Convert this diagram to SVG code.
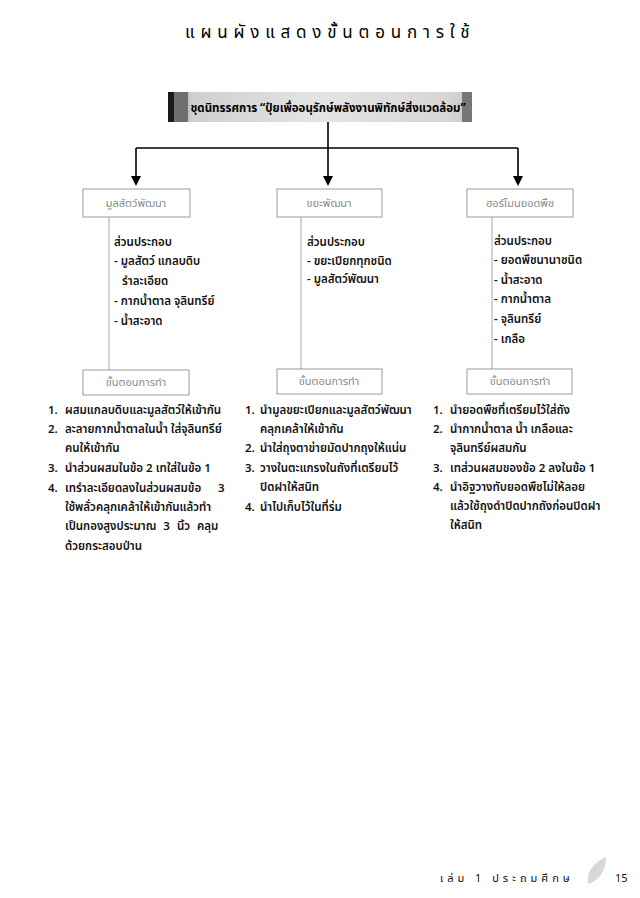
<svg xmlns="http://www.w3.org/2000/svg" width="640" height="898" viewBox="0 0 640 898">
<style>
text{font-family:"Noto Sans Thai","Noto Sans Thai UI","Loma","Garuda","Tlwg Typo","DejaVu Sans","Noto Sans",sans-serif;fill:#111}
.title{font-size:17px;letter-spacing:5.8px;fill:#000}
.hdr{font-size:11.5px;font-weight:bold;fill:#000}
.lbl{font-size:11px;fill:#8a8a8a;text-anchor:middle}
.t{font-size:11.5px;font-weight:600}
.box{fill:#fff;stroke:#9a9a9a;stroke-width:1}
.vl{stroke:#aaa;stroke-width:1;fill:none}
.con{stroke:#000;stroke-width:1.6;fill:none}
.foot{font-size:11px;letter-spacing:4px}
</style>
<defs>
<linearGradient id="bar" x1="0" x2="1" y1="0" y2="0">
<stop offset="0" stop-color="#8a8a8a"/>
<stop offset="0.08" stop-color="#cfcfcf"/>
<stop offset="0.5" stop-color="#e4e4e4"/>
<stop offset="0.92" stop-color="#d6d6d6"/>
<stop offset="1" stop-color="#c8c8c8"/>
</linearGradient>
</defs>
<rect width="640" height="898" fill="#fff"/>

<text class="title" x="185" y="38">แผนผังแสดงขั้นตอนการใช้</text>

<g id="header">
<rect x="168" y="92" width="304" height="30" fill="url(#bar)"/>
<rect x="168" y="92" width="6" height="30" fill="#1a1a1a"/>
<rect x="174" y="92" width="14" height="30" fill="#6f6f6f"/>
<rect x="462" y="92" width="10" height="30" fill="#777"/>
<text class="hdr" x="328" y="112" text-anchor="middle">ชุดนิทรรศการ “ปุ๋ยเพื่ออนุรักษ์พลังงานพิทักษ์สิ่งแวดล้อม”</text>
</g>

<g id="connectors">
<path class="con" d="M328,122 V182"/>
<path class="con" d="M136,148 H518"/>
<path class="con" d="M136,148 V182"/>
<path class="con" d="M518,148 V182"/>
<path d="M131,176 L141,176 L136,186 Z" fill="#000"/>
<path d="M323,176 L333,176 L328,186 Z" fill="#000"/>
<path d="M513,176 L523,176 L518,186 Z" fill="#000"/>
<path class="vl" d="M109,217 V370"/>
<path class="vl" d="M301,217 V369"/>
<path class="vl" d="M492,217 V369"/>
</g>

<g id="box-manure">
<rect class="box" x="83" y="189" width="107" height="28"/>
<text class="lbl" x="136" y="207">มูลสัตว์พัฒนา</text>
</g>
<g id="box-waste">
<rect class="box" x="277" y="189" width="105" height="28"/>
<text class="lbl" x="329" y="207">ขยะพัฒนา</text>
</g>
<g id="box-hormone">
<rect class="box" x="467" y="189" width="106" height="28"/>
<text class="lbl" x="520" y="207">ฮอร์โมนยอดพืช</text>
</g>

<g id="comp-manure">
<text class="t" x="114" y="246">ส่วนประกอบ</text>
<text class="t" x="114" y="265">- มูลสัตว์ แกลบดิบ</text>
<text class="t" x="122" y="285">รำละเอียด</text>
<text class="t" x="114" y="305">- กากน้ำตาล จุลินทรีย์</text>
<text class="t" x="114" y="325">- น้ำสะอาด</text>
</g>
<g id="comp-waste">
<text class="t" x="307" y="246">ส่วนประกอบ</text>
<text class="t" x="307" y="265">- ขยะเปียกทุกชนิด</text>
<text class="t" x="307" y="283">- มูลสัตว์พัฒนา</text>
</g>
<g id="comp-hormone">
<text class="t" x="494" y="245">ส่วนประกอบ</text>
<text class="t" x="494" y="264">- ยอดพืชนานาชนิด</text>
<text class="t" x="494" y="284">- น้ำสะอาด</text>
<text class="t" x="494" y="303">- กากน้ำตาล</text>
<text class="t" x="494" y="323">- จุลินทรีย์</text>
<text class="t" x="494" y="343">- เกลือ</text>
</g>

<g id="step-manure">
<rect class="box" x="83" y="370" width="106" height="25"/>
<text class="lbl" x="136" y="386">ขั้นตอนการทำ</text>
</g>
<g id="step-waste">
<rect class="box" x="277" y="369" width="105" height="25"/>
<text class="lbl" x="329" y="385">ขั้นตอนการทำ</text>
</g>
<g id="step-hormone">
<rect class="box" x="467" y="369" width="105" height="25"/>
<text class="lbl" x="520" y="385">ขั้นตอนการทำ</text>
</g>

<g id="proc-manure">
<text class="t" x="48" y="414">1.</text><text class="t" x="65" y="414">ผสมแกลบดิบและมูลสัตว์ให้เข้ากัน</text>
<text class="t" x="48" y="433">2.</text><text class="t" x="65" y="433">ละลายกากน้ำตาลในน้ำ ใส่จุลินทรีย์</text>
<text class="t" x="65" y="452">คนให้เข้ากัน</text>
<text class="t" x="48" y="472">3.</text><text class="t" x="65" y="472">นำส่วนผสมในข้อ 2 เทใส่ในข้อ 1</text>
<text class="t" x="48" y="492">4.</text><text class="t" x="65" y="492">เทรำละเอียดลงในส่วนผสมข้อ</text><text class="t" x="218" y="492">3</text>
<text class="t" x="65" y="511">ใช้พลั่วคลุกเคล้าให้เข้ากันแล้วทำ</text>
<text class="t" x="65" y="530" style="word-spacing:4px">เป็นกองสูงประมาณ 3 นิ้ว คลุม</text>
<text class="t" x="65" y="550">ด้วยกระสอบป่าน</text>
</g>
<g id="proc-waste">
<text class="t" x="245" y="414">1.</text><text class="t" x="260" y="414">นำมูลขยะเปียกและมูลสัตว์พัฒนา</text>
<text class="t" x="260" y="433">คลุกเคล้าให้เข้ากัน</text>
<text class="t" x="245" y="452">2.</text><text class="t" x="260" y="452">นำใส่ถุงตาข่ายมัดปากถุงให้แน่น</text>
<text class="t" x="245" y="472">3.</text><text class="t" x="260" y="472">วางในตะแกรงในถังที่เตรียมไว้</text>
<text class="t" x="260" y="491">ปิดฝาให้สนิท</text>
<text class="t" x="245" y="511">4.</text><text class="t" x="260" y="511">นำไปเก็บไว้ในที่ร่ม</text>
</g>
<g id="proc-hormone">
<text class="t" x="433" y="414">1.</text><text class="t" x="450" y="414">นำยอดพืชที่เตรียมไว้ใส่ถัง</text>
<text class="t" x="433" y="433">2.</text><text class="t" x="450" y="433">นำกากน้ำตาล น้ำ เกลือและ</text>
<text class="t" x="450" y="452">จุลินทรีย์ผสมกัน</text>
<text class="t" x="433" y="472">3.</text><text class="t" x="450" y="472">เทส่วนผสมของข้อ 2 ลงในข้อ 1</text>
<text class="t" x="433" y="491">4.</text><text class="t" x="450" y="491">นำอิฐวางทับยอดพืชไม่ให้ลอย</text>
<text class="t" x="450" y="510">แล้วใช้ถุงดำปิดปากถังก่อนปิดฝา</text>
<text class="t" x="450" y="529">ให้สนิท</text>
</g>

<g id="footer">
<text class="foot" x="440" y="882">เล่ม 1 ประถมศึกษ</text>
<path d="M588,884 C586,872 594,862 606,857 C606,870 600,880 588,884 Z" fill="#d8d8d8"/>
<text x="615" y="882" style="font-size:11px">15</text>
</g>
</svg>
